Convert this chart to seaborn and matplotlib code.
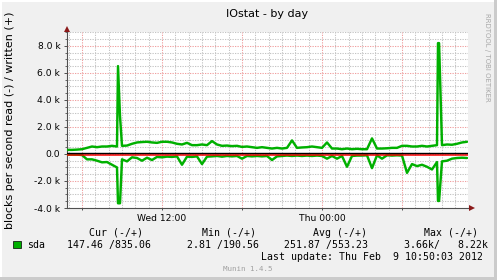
import numpy as np
import pandas as pd
import matplotlib
matplotlib.use("Agg")
import matplotlib.pyplot as plt
from matplotlib.ticker import FixedLocator
from matplotlib.patches import Rectangle
import seaborn as sns

# ---------------- data (values in thousands of blocks/s) ----------------
start_hour = 4.875          # hours since Wed 00:00
sample_step = 0.375         # hours between samples
written = [0.30, 0.30, 0.32, 0.35, 0.45, 0.55, 0.50, 0.55, 0.55, 0.60,
           0.55, 0.60, 0.62, 0.75, 0.85, 0.88, 0.90, 0.85, 0.82, 0.90,
           0.90, 0.85, 0.75, 0.70, 0.82, 0.65, 0.65, 0.70, 0.65, 0.95,
           0.70, 0.60, 0.62, 0.58, 0.60, 0.52, 0.55, 0.50, 0.45, 0.50,
           0.45, 0.40, 0.45, 0.40, 0.45, 1.00, 0.45, 0.48, 0.50, 0.55,
           0.50, 0.45, 0.85, 0.40, 0.40, 0.35, 0.40, 0.35, 0.38, 0.35,
           0.35, 1.15, 0.40, 0.40, 0.42, 0.45, 0.45, 0.60, 0.60, 0.55,
           0.55, 0.60, 0.55, 0.60, 0.65, 0.65, 0.70, 0.68, 0.75, 0.85,
           0.90]
read = [-0.05, -0.05, -0.05, -0.08, -0.40, -0.40, -0.50, -0.62, -0.60, -0.80,
        -1.00, -0.40, -0.55, -0.25, -0.30, -0.50, -0.28, -0.45, -0.22, -0.25,
        -0.20, -0.22, -0.18, -0.80, -0.20, -0.22, -0.18, -0.75, -0.20, -0.18,
        -0.15, -0.20, -0.15, -0.18, -0.15, -0.35, -0.15, -0.18, -0.15, -0.18,
        -0.15, -0.45, -0.18, -0.15, -0.12, -0.15, -0.12, -0.15, -0.12, -0.15,
        -0.12, -0.15, -0.35, -0.15, -0.35, -0.15, -0.95, -0.15, -0.12, -0.12,
        -0.10, -1.05, -0.10, -0.35, -0.10, -0.12, -0.10, -0.12, -1.40, -0.75,
        -0.90, -0.80, -0.95, -1.15, -0.60, -0.55, -0.50, -0.35, -0.30, -0.28,
        -0.30]
spike_hours = [8.70, 8.85, 32.70, 32.78]
spike_written = [6.5, 2.8, 8.2, 8.2]
spike_read = [-3.65, -3.65, -3.48, -3.48]

y_ticks = [-4, -2, 0, 2, 4, 6, 8]
y_tick_labels = ["-4.0 k", "-2.0 k", "0.0", "2.0 k", "4.0 k", "6.0 k", "8.0 k"]
x_major = [6, 12, 18, 24, 30]
x_major_labels = ["", "Wed 12:00", "", "Thu 00:00", ""]
x_minor_step = 1.0
y_minor_step = 0.5

title = "IOstat - by day"
y_label = "blocks per second read (-) / written (+)"
series_name = "sda"
legend_headers = ["Cur (-/+)", "Min (-/+)", "Avg (-/+)", "Max (-/+)"]
legend_values = ["147.46 /835.06", "2.81 /190.56", "251.87 /553.23", "3.66k/   8.22k"]
last_update = "Last update: Thu Feb  9 10:50:03 2012"
version = "Munin 1.4.5"
watermark = "RRDTOOL / TOBI OETIKER"

# ---------------- build frame ----------------
hours = start_hour + sample_step * np.arange(len(written))
df = pd.DataFrame({"hours": np.concatenate([hours, spike_hours]),
                   "written": np.concatenate([written, spike_written]),
                   "read": np.concatenate([read, spike_read])})
df = df.sort_values("hours").reset_index(drop=True)

# ---------------- figure ----------------
W, H = 497, 280
sns.set_style("white")
plt.rcParams["font.family"] = ["DejaVu Sans"]
fig = plt.figure(figsize=(W / 100, H / 100), dpi=100)
fig.patch.set_facecolor("#F0F0F0")


def fx(px):
    return px / W


def fy(py):
    return 1 - py / H


ax = fig.add_axes([fx(67), fy(208), fx(468) - fx(67), fy(32.3) - fy(208)])
ax.set_facecolor("white")

x_lo, x_hi = 4.875, 34.95
y_lo, y_hi = -4, 9

# dotted grid: minor (grey) and major (red), drawn explicitly
minor_x = [v for v in np.arange(5, 35, x_minor_step) if v not in x_major]
minor_y = [v for v in np.arange(-3.5, 9.01, y_minor_step) if v not in y_ticks]
dot = (0, (1.2, 1.2))
for v in minor_x:
    ax.axvline(v, color="#C4C4C4", linestyle=dot, linewidth=0.75, zorder=0.5)
for v in minor_y:
    ax.axhline(v, color="#C4C4C4", linestyle=dot, linewidth=0.75, zorder=0.5)
for v in x_major:
    ax.axvline(v, color="#F0A0A0", linestyle=dot, linewidth=0.75, zorder=0.6)
for v in y_ticks[1:]:
    ax.axhline(v, color="#F0A0A0", linestyle=dot, linewidth=0.75, zorder=0.6)

green = "#00B000"
sns.lineplot(data=df, x="hours", y="written", ax=ax, color=green,
             linewidth=1.75, estimator=None, zorder=3)
sns.lineplot(data=df, x="hours", y="read", ax=ax, color=green,
             linewidth=1.75, estimator=None, zorder=3)

# zero rule (red) and black line above it
ax.axhline(-0.05, color="#FF0000", linewidth=1.1, zorder=4)
ax.axhline(0.065, color="black", linewidth=1.0, zorder=5)

ax.set_xlim(x_lo, x_hi)
ax.set_ylim(y_lo, y_hi)

ax.xaxis.set_major_locator(FixedLocator(x_major))
ax.set_xticklabels(x_major_labels)
ax.yaxis.set_major_locator(FixedLocator(y_ticks))
ax.set_yticklabels(y_tick_labels)
ax.yaxis.set_minor_locator(FixedLocator(minor_y))
ax.grid(False)

for s in ["top", "right"]:
    ax.spines[s].set_visible(False)
for s in ["left", "bottom"]:
    ax.spines[s].set_color("#505050")
    ax.spines[s].set_linewidth(0.8)

ax.tick_params(axis="y", which="major", length=2.4, width=0.7, color="#505050",
               pad=2.4, labelsize=6.6, labelcolor="black", left=True)
ax.tick_params(axis="y", which="minor", length=1.3, width=0.6, color="#505050", left=True)
ax.tick_params(axis="x", which="major", length=1.6, width=0.7, color="#505050",
               pad=3.0, labelsize=6.6, labelcolor="black", bottom=True)
ax.set_xlabel("")
ax.set_ylabel("")

# axis arrows (spine extension + arrow heads)
ax.plot([1.0, 1.006], [0.0, 0.0], color="#505050", linewidth=0.8,
        transform=ax.transAxes, clip_on=False, zorder=5)
ax.plot([1.009], [0.0], marker=">", markersize=3.8, color="#8B1A1A",
        transform=ax.transAxes, clip_on=False, zorder=6, markeredgewidth=0)
ax.plot([0.0], [1.018], marker="^", markersize=3.8, color="#8B1A1A",
        transform=ax.transAxes, clip_on=False, zorder=6, markeredgewidth=0)

# texts
fig.text(fx(267.5), fy(14), title, ha="center", va="center", fontsize=8.0,
         color="black")
fig.text(fx(10.5), fy(120), y_label, ha="center", va="center", rotation=90,
         fontsize=8.0, color="black")
fig.text(fx(487.5), fy(57), watermark, ha="center", va="center", rotation=270,
         fontsize=5.0, color="#A8A8A8")

mono = "DejaVu Sans Mono"
header_x = [89.3, 201.7, 312.7, 423.7]
value_x = [66.7, 186.7, 283.7, 403.7]
for hx, txt in zip(header_x, legend_headers):
    fig.text(fx(hx), fy(232.5), txt, ha="left", va="center", fontsize=7.1,
             family=mono, color="black")
fig.patches.append(Rectangle((fx(13.3), fy(248)), fx(7.5), fy(240.5) - fy(248),
                             transform=fig.transFigure, facecolor=green,
                             edgecolor="black", linewidth=0.5))
fig.text(fx(26.7), fy(244.7), series_name, ha="left", va="center", fontsize=7.1,
         family=mono, color="black")
for vx, txt in zip(value_x, legend_values):
    fig.text(fx(vx), fy(244.7), txt, ha="left", va="center", fontsize=7.1,
             family=mono, color="black")
fig.text(fx(483), fy(256.7), last_update, ha="right", va="center", fontsize=7.1,
         family=mono, color="black")
fig.text(fx(248), fy(269), version, ha="center", va="center", fontsize=5.4,
         family=mono, color="#A0A0A0")

# 3D border
fig.patches.append(Rectangle((0, fy(280)), fx(2), 1, transform=fig.transFigure,
                             facecolor="#FFFFFF", edgecolor="none"))
fig.patches.append(Rectangle((0, fy(2)), 1, fy(0) - fy(2), transform=fig.transFigure,
                             facecolor="#FFFFFF", edgecolor="none"))
fig.patches.append(Rectangle((fx(494), 0), fx(3), 1, transform=fig.transFigure,
                             facecolor="#CBCBCB", edgecolor="none"))
fig.patches.append(Rectangle((0, 0), 1, fy(277), transform=fig.transFigure,
                             facecolor="#CBCBCB", edgecolor="none"))

fig.savefig("out.png", dpi=100, facecolor=fig.get_facecolor())
